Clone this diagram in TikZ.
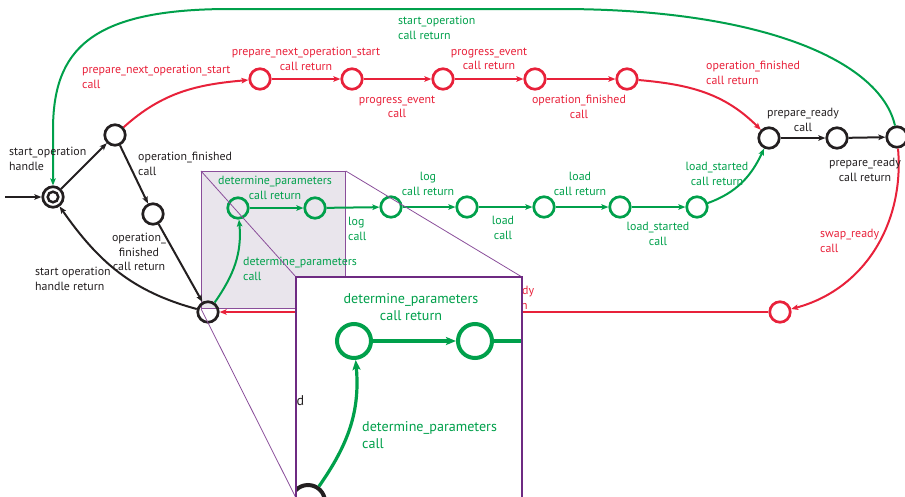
\documentclass[tikz,border=0pt]{standalone}
\usepackage{fontspec}
\setmainfont{PT Sans}
\usetikzlibrary{arrows.meta}
\definecolor{cred}{HTML}{E8213A}
\definecolor{cgreen}{HTML}{00A04B}
\definecolor{cblack}{HTML}{231F20}
\definecolor{cpurple}{HTML}{6E2A82}
\definecolor{cpurplel}{HTML}{8A4E9A}
\definecolor{cshade}{HTML}{E9E5EC}
\begin{document}
\begin{tikzpicture}[x=1pt,y=1pt,
  st/.style={circle,draw,line width=2.7pt,minimum size=20.5pt,inner sep=0pt},
  bst/.style={st,draw=cblack},
  rst/.style={st,draw=cred},
  gst/.style={st,draw=cgreen},
  bigst/.style={circle,draw,line width=4pt,minimum size=34pt,inner sep=0pt},
  edge/.style={line width=2pt,-{Stealth[length=7pt,width=5.5pt,inset=1.5pt]}},
  bedge/.style={edge,draw=cblack},
  redge/.style={edge,draw=cred},
  gedge/.style={edge,draw=cgreen},
  bigedge/.style={line width=3.2pt,draw=cgreen,-{Stealth[length=10pt,width=8pt,inset=2pt]}},
  lbl/.style={font=\fontsize{11.9}{14.6}\selectfont,inner sep=0pt},
  biglbl/.style={font=\fontsize{14.1}{16.5}\selectfont,inner sep=0pt},
  bl/.style={lbl,text=cblack},
  rl/.style={lbl,text=cred},
  gl/.style={lbl,text=cgreen},
  lft/.style={align=left,anchor=west},
  ctr/.style={align=center},
]
\useasboundingbox (0,0) rectangle (905,-496);
\clip (0,0) rectangle (905,-496);

% spied area (background)
\node[draw=cpurplel,line width=0.8pt,fill=cshade,minimum width=144pt,minimum height=137pt,inner sep=0pt,anchor=north west] (spy) at (201,-171) {};

% states
\node[bst] (s0) at (53,-197) {};
\draw[cblack,line width=2.5pt] (s0.center) circle (5.3);
\coordinate (init) at (5,-197);
\node[bst] (n1) at (115,-135) {};
\node[bst] (n2) at (153,-214) {};
\node[bst] (n3) at (208,-312) {};
\node[rst] (r1) at (260,-79) {};
\node[rst] (r2) at (352,-79) {};
\node[rst] (r3) at (443,-79) {};
\node[rst] (r4) at (535,-79) {};
\node[rst] (r5) at (627,-79) {};
\node[bst] (p1) at (769,-138) {};
\node[bst] (p2) at (837,-138) {};
\node[bst] (p3) at (897,-137) {};
\node[gst] (g1) at (238,-208) {};
\node[gst] (g2) at (315,-208) {};
\node[gst] (g3) at (391,-207) {};
\node[gst] (g4) at (467,-207) {};
\node[gst] (g5) at (544,-207) {};
\node[gst] (g6) at (620,-207) {};
\node[gst] (g7) at (697,-207) {};
\node[rst] (r6) at (780,-312) {};

% edges
\draw[bedge] (init) -- (s0);
\draw[bedge] (s0) -- (n1);
\draw[bedge] (n1) -- (n2);
\draw[bedge] (n2) -- (n3);
\draw[bedge] (n3) to[out=165,in=-55] (s0);
\draw[redge] (n1) to[out=42,in=185] (r1);
\draw[redge] (r1) -- (r2);
\draw[redge] (r2) -- (r3);
\draw[redge] (r3) -- (r4);
\draw[redge] (r4) -- (r5);
\draw[redge] (r5) to[out=-5,in=135] (p1);
\draw[bedge] (p1) -- (p2);
\draw[bedge] (p2) -- (p3);
\draw[gedge] (p3.100) .. controls (880,-60) and (760,-9) .. (560,-9) -- (230,-9) .. controls (90,-9) and (53,-50) .. (53,-130) -- (s0);
\draw[redge] (p3) to[out=-85,in=15] (r6);
\draw[redge] (r6) -- (n3);
\draw[gedge] (n3) to[out=55,in=-85] (g1);
\draw[gedge] (g1) -- (g2);
\draw[gedge] (g2) -- (g3);
\draw[gedge] (g3) -- (g4);
\draw[gedge] (g4) -- (g5);
\draw[gedge] (g5) -- (g6);
\draw[gedge] (g6) -- (g7);
\draw[gedge] (g7) to[out=20,in=-115] (p1);

% labels
\node[bl,lft] at (9,-159) {start\_operation\\handle};
\node[bl,lft] at (138,-164) {operation\_finished\\call};
\node[bl,ctr] at (139,-252) {operation\_\\finished\\call return};
\node[bl,lft] at (35,-279) {start operation\\handle return};
\node[rl,lft] at (82,-77) {prepare\_next\_operation\_start\\call};
\node[rl,ctr] at (306,-59) {prepare\_next\_operation\_start\\call return};
\node[rl,ctr] at (397,-107) {progress\_event\\call};
\node[rl,ctr] at (489,-59) {progress\_event\\call return};
\node[rl,ctr] at (579,-107) {operation\_finished\\call};
\node[rl,lft] at (706,-73) {operation\_finished\\call return};
\node[bl,ctr] at (803,-120) {prepare\_ready\\call};
\node[bl,ctr] at (865,-170) {prepare\_ready\\call return};
\node[gl,lft] at (398,-28) {start\_operation\\call return};
\node[rl,lft] at (820,-241) {swap\_ready\\call};
\node[rl,lft] at (475,-298) {swap\_ready\\call return};
\node[gl,lft] at (243,-269) {determine\_parameters\\call};
\node[gl,ctr] at (275,-188) {determine\_parameters\\call return};
\node[gl,lft] at (348,-229) {log\\call};
\node[gl,ctr] at (428,-184) {log\\call return};
\node[gl,ctr] at (503,-228) {load\\call};
\node[gl,ctr] at (580,-184) {load\\call return};
\node[gl,ctr] at (658,-234) {load\_started\\call};
\node[gl,ctr] at (717,-174) {load\_started\\call return};

% spy connectors
\draw[cpurplel,line width=0.8pt] (spy.north west) -- (296,-277) coordinate (zbnw);
\draw[cpurplel,line width=0.8pt] (spy.north east) -- (522,-277) coordinate (zbne);
\draw[cpurplel,line width=0.8pt] (spy.south west) -- (296,-498) coordinate (zbsw);

% magnified box
\node[fill=white,minimum width=226pt,minimum height=221pt,inner sep=0pt,anchor=north west] (zoombox) at (296,-277) {};
\begin{scope}
\clip (zoombox.north west) rectangle (zoombox.south east);
\node[bigst,draw=cgreen] (mg1) at (354,-341) {};
\node[bigst,draw=cgreen] (mg2) at (475,-341) {};
\node[bigst,draw=cgreen] (mg3) at (595,-341) {};
\node[bigst,draw=cblack] (mn3) at (308,-502) {};
\draw[bigedge] (mg1) -- (mg2);
\draw[bigedge] (mg2) -- (mg3);
\draw[bigedge] (mn3) to[out=55,in=-85] (mg1);
\node[biglbl,text=cgreen,ctr] at (411,-307) {determine\_parameters\\call return};
\node[biglbl,text=cgreen,lft] at (362,-435) {determine\_parameters\\call};
\node[biglbl,text=cblack,anchor=base west] at (296.5,-405) {d};
\end{scope}
\draw[cpurple,line width=2pt] (zoombox.north west) rectangle (zoombox.south east);
\end{tikzpicture}
\end{document}
